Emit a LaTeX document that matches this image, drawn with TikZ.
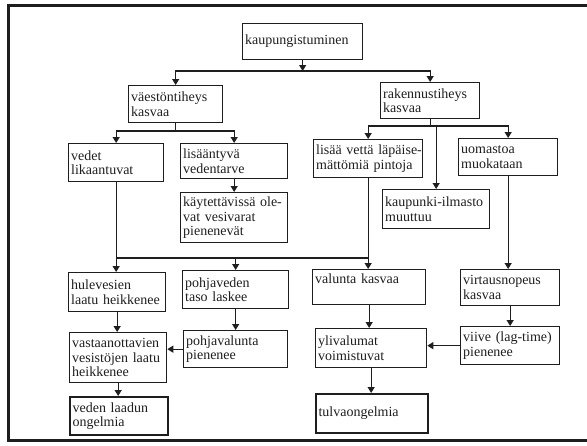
\documentclass[tikz,border=0pt]{standalone}
\usepackage{fontspec}
\setmainfont{Liberation Serif}
\usepackage{tikz}
\usetikzlibrary{arrows.meta, positioning, calc}
\definecolor{inkgray}{RGB}{30, 30, 30}
\hyphenpenalty=10000
\exhyphenpenalty=10000

\begin{document}
\begin{tikzpicture}[
    x=1pt, y=-1pt,
    box/.style={rectangle, draw=inkgray, line width=1.3pt, anchor=north west,
                align=left, inner xsep=2.5pt, inner ysep=2pt,
                font=\fontsize{14}{14.5}\selectfont, text=inkgray},
    endbox/.style={box, line width=2.2pt},
    arr/.style={-{Triangle[length=6pt, width=7pt]}, line width=1.2pt, draw=inkgray},
    link/.style={line width=1.2pt, draw=inkgray}
]
\useasboundingbox (0,0) rectangle (587,445);

%% Frame
\draw[line width=3pt, draw=inkgray] (592,5) -- (8,5) -- (8,440) -- (592,440);

%% Top levels
\node[box, minimum width=120, minimum height=36, text width=115] (kaup)   at (242,23)  {kaupungistuminen};
\node[box, minimum width=94,  minimum height=37, text width=89]  (vaesto) at (128,85)  {väestöntiheys\\kasvaa};
\node[box, minimum width=99,  minimum height=36, text width=94]  (rak)    at (380,82)  {rakennustiheys\\kasvaa};

%% Second row
\node[box, minimum width=95,  minimum height=38, text width=90]  (vedet)  at (68,143)  {vedet\\likaantuvat};
\node[box, minimum width=107, minimum height=35, text width=102] (tarve)  at (180,143) {lisääntyvä\\vedentarve};
\node[box, minimum width=107, minimum height=50, text width=102] (varat)  at (180,192) {käytettävissä~ole-\\vat~vesivarat\\pienenevät};
\node[box, minimum width=109, minimum height=38, text width=104] (pinnat) at (313,139) {lisää~vettä~läpäise-\\mättömiä~pintoja};
\node[box, minimum width=99,  minimum height=37, text width=94]  (uoma)   at (458,138) {uomastoa\\muokataan};
\node[box, minimum width=107, minimum height=39, text width=102] (ilmasto) at (382,189) {kaupunki-ilmasto\\muuttuu};

%% Third row
\node[box, minimum width=97,  minimum height=39, text width=92]  (hule)   at (68,272)  {hulevesien\\laatu~heikkenee};
\node[box, minimum width=106, minimum height=38, text width=101] (pohja)  at (182,270) {pohjaveden\\taso~laskee};
\node[box, minimum width=113, minimum height=35, text width=108, text depth=17pt] (valunta) at (312,269) {valunta~kasvaa};
\node[box, minimum width=99,  minimum height=36, text width=94]  (virtaus) at (460,269) {virtausnopeus\\kasvaa};

%% Fourth row
\node[box, minimum width=97,  minimum height=50, text width=92]  (vast)   at (69,332)  {vastaanottavien\\vesistöjen~laatu\\heikkenee};
\node[box, minimum width=104, minimum height=37, text width=99]  (pvalu)  at (183,330) {pohjavalunta\\pienenee};
\node[box, minimum width=111, minimum height=39, text width=106] (yliv)   at (315,328) {ylivalumat\\voimistuvat};
\node[box, minimum width=99,  minimum height=38, text width=94]  (viive)  at (460,326) {viive~(lag-time)\\pienenee};

%% Outcomes
\node[endbox, minimum width=98,  minimum height=38, text width=93]  (laatu) at (69,396)  {veden~laadun\\ongelmia};
\node[endbox, minimum width=112, minimum height=39, text width=107] (tulva) at (315,393) {tulvaongelmia};

%% Bar levels
\coordinate (bar1) at (0,71);
\coordinate (bar2) at (0,131);
\coordinate (bar2r) at (0,126);
\coordinate (bar3) at (0,258);

%% Branches from the top
\draw[arr] (kaup.south) -- (kaup.south |- bar1);
\draw[arr] (kaup.south |- bar1) -| (vaesto.north);
\draw[arr] (kaup.south |- bar1) -| (rak.north);

\draw[link] (vaesto.south) -- (vaesto.south |- bar2);
\draw[arr] (vaesto.south |- bar2) -| (vedet.north);
\draw[arr] (vaesto.south |- bar2) -| (tarve.north);
\draw[arr] (tarve.south) -- (varat.north);

\draw[link] (rak.south) -- (rak.south |- bar2r);
\draw[arr] (rak.south |- bar2r) -| (pinnat.north);
\draw[arr] (rak.south |- bar2r) -| (ilmasto.north);
\draw[arr] (rak.south |- bar2r) -| (uoma.north);

%% Water quality and runoff
\draw[arr] (vedet.south) -- (vedet.south |- hule.north);
\draw[arr] (pinnat.south) -- (pinnat.south |- valunta.north);
\draw[link] (vedet.south |- bar3) -- (pinnat.south |- bar3);
\draw[arr] (pohja.north |- bar3) -- (pohja.north);

\draw[arr] (hule.south) -- (hule.south |- vast.north);
\draw[arr] (pohja.south) -- (pohja.south |- pvalu.north);
\draw[arr] (pvalu.west) -- (pvalu.west -| vast.east);
\draw[arr] (vast.south) -- (vast.south |- laatu.north);

\draw[arr] (uoma.south) -- (uoma.south |- virtaus.north);
\draw[arr] (virtaus.south) -- (virtaus.south |- viive.north);
\draw[arr] (viive.west) -- (viive.west -| yliv.east);
\draw[arr] (valunta.south) -- (valunta.south |- yliv.north);
\draw[arr] (yliv.south) -- (yliv.south |- tulva.north);

\end{tikzpicture}
\end{document}
